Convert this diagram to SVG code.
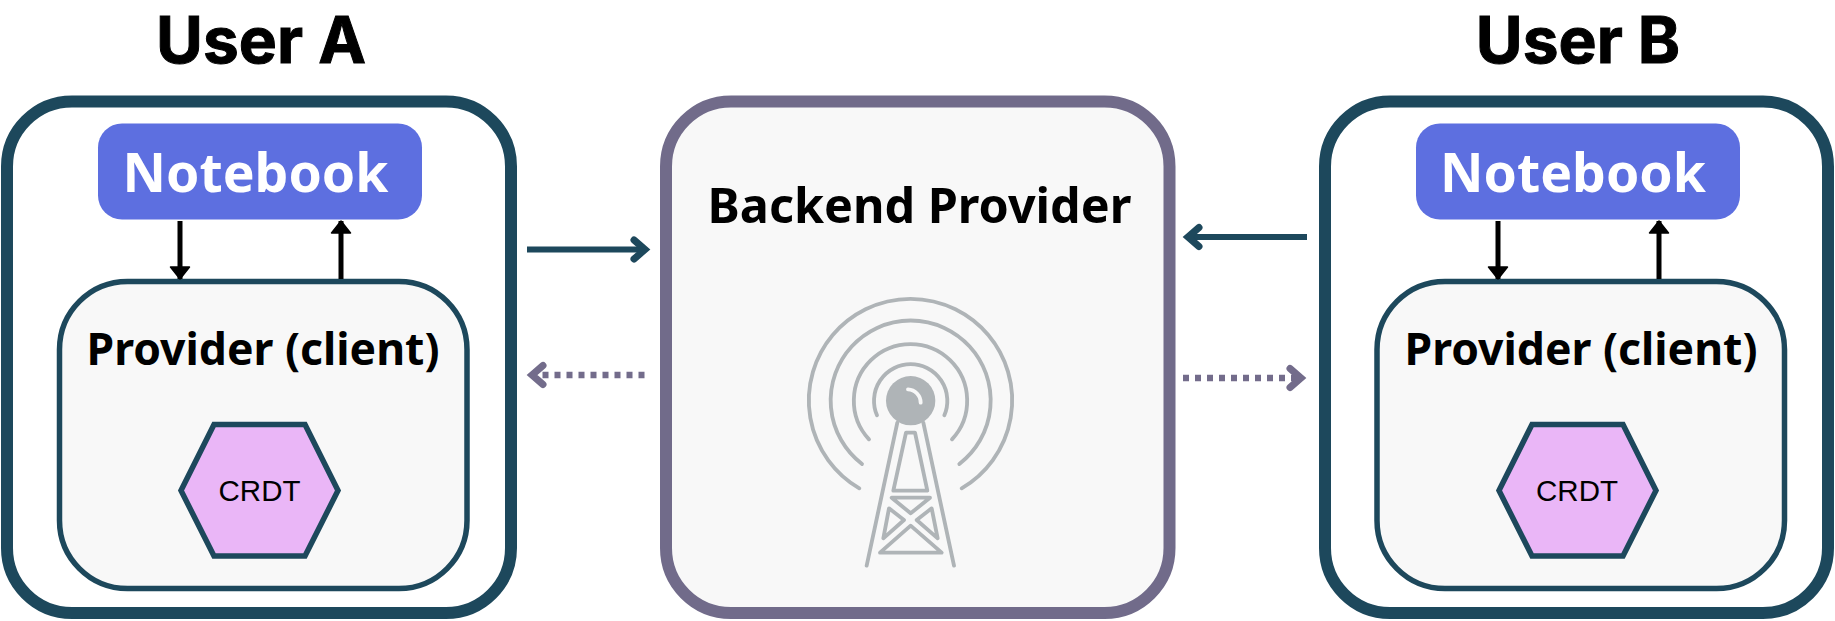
<svg xmlns="http://www.w3.org/2000/svg" width="1835" height="621" viewBox="0 0 1835 621">
<style>
text{font-family:"Noto Sans","Open Sans","Liberation Sans",sans-serif;font-weight:700;fill:#000}
.title{font-family:Inter,"Noto Sans",sans-serif;font-size:64px;stroke:#000;stroke-width:1px}
.nb{font-size:53.500px;fill:#fff}
.prov{font-size:44.500px}
.back{font-size:48.500px}
.crdt{font-family:"Liberation Sans",Arial,sans-serif;font-weight:400;font-size:29.500px}
.user{fill:#fff;stroke:#1D485C;stroke-width:12}
.nbbox{fill:#5D6FE0}
.provbox{fill:#F8F8F8;stroke:#1D485C;stroke-width:5.500}
.hex{fill:#EAB6F7;stroke:#1D485C;stroke-width:5.500;stroke-linejoin:miter}
.ba{fill:#F8F8F8;stroke:#716B8A;stroke-width:12}
.blk{stroke:#000;stroke-width:5;fill:none}
.teal{stroke:#1D485C;stroke-width:6;fill:none}
.dot{stroke:#736C8B;stroke-width:6.500;stroke-dasharray:6 6;fill:none}
.tw{fill:none;stroke:#AFB4B7;stroke-width:11.500;stroke-linecap:round;stroke-linejoin:round}
</style>
<defs>
<marker id="hb" markerUnits="userSpaceOnUse" markerWidth="24" markerHeight="24" refX="12" refY="12" orient="auto" overflow="visible"><path d="M12 12L0 2.500 0 21.500Z" fill="#000" stroke="#000" stroke-width="1.500" stroke-linejoin="round"/></marker>
<marker id="ct" markerUnits="userSpaceOnUse" markerWidth="40" markerHeight="40" refX="20" refY="20" orient="auto" overflow="visible"><path d="M9 10.500L20 20 9 29.500" fill="none" stroke="#1D485C" stroke-width="7" stroke-linecap="round"/></marker>
<marker id="cp" markerUnits="userSpaceOnUse" markerWidth="40" markerHeight="40" refX="20" refY="20" orient="auto" overflow="visible"><path d="M9 10.500L20 20 9 29.500" fill="none" stroke="#736C8B" stroke-width="7" stroke-linecap="round"/></marker>
</defs>
<rect width="1835" height="621" fill="#fff"/>
<g id="user-a">
<text class="title" x="261" y="63" text-anchor="middle">User A</text>
<rect class="user" x="7" y="101.500" width="504" height="511.500" rx="65"/>
</g>
<g id="notebook-a">
<rect class="nbbox" x="98" y="123.500" width="324" height="96" rx="24"/>
<text class="nb" x="255.500" y="192" text-anchor="middle">Notebook</text>
</g>
<g id="provider-a">
<rect class="provbox" x="59.500" y="281.500" width="407.500" height="307" rx="68"/>
<text class="prov" x="263" y="365" text-anchor="middle">Provider (client)</text>
</g>
<g id="crdt-a">
<polygon class="hex" points="181,490.500 214,424.500 305,424.500 338,490.500 305,556 214,556"/>
<text class="crdt" x="259.500" y="501" text-anchor="middle">CRDT</text>
</g>
<g id="backend">
<rect class="ba" x="666" y="101.500" width="503.500" height="511.500" rx="65"/>
<text class="back" x="919.500" y="223" text-anchor="middle">Backend Provider</text>
<g class="tw" transform="translate(780 280) scale(.33333)">
<circle cx="392" cy="362" r="74" fill="#AFB4B7" stroke="none"/>
<path d="M384 328A40 40 0 0 1 422 368" stroke="#F8F8F8"/>
<path d="M291 406A110 110 0 1 1 493 406"/>
<path d="M267 478A170 170 0 1 1 516 478"/>
<path d="M246 552A240 240 0 1 1 538 552"/>
<path d="M238 625A305 305 0 1 1 545 625"/>
<path d="M352 428L260 857M430 428L522 857"/>
<path d="M378 458H405L442 632H340Z"/>
<path d="M335 653H450L392 700Z"/>
<path d="M327 685L372 720 310 775Z"/>
<path d="M455 685L410 720 473 775Z"/>
<path d="M392 737L485 818H300Z"/>
</g>
</g>
<g id="user-b">
<text class="title" x="1578" y="63" text-anchor="middle">User B</text>
<rect class="user" x="1325" y="101.500" width="503" height="511.500" rx="65"/>
</g>
<g id="notebook-b">
<rect class="nbbox" x="1416" y="123.500" width="324" height="96" rx="24"/>
<text class="nb" x="1573" y="192" text-anchor="middle">Notebook</text>
</g>
<g id="provider-b">
<rect class="provbox" x="1377" y="281.500" width="407.500" height="307" rx="68"/>
<text class="prov" x="1581" y="365" text-anchor="middle">Provider (client)</text>
</g>
<g id="crdt-b">
<polygon class="hex" points="1499,490.500 1532,424.500 1623,424.500 1656,490.500 1623,556 1532,556"/>
<text class="crdt" x="1577" y="501" text-anchor="middle">CRDT</text>
</g>
<g id="connectors">
<line class="blk" x1="180" y1="221" x2="180" y2="279" marker-end="url(#hb)"/>
<line class="blk" x1="341" y1="279" x2="341" y2="221" marker-end="url(#hb)"/>
<line class="blk" x1="1498" y1="221" x2="1498" y2="279" marker-end="url(#hb)"/>
<line class="blk" x1="1659" y1="279" x2="1659" y2="221" marker-end="url(#hb)"/>
<line class="teal" x1="527" y1="249.500" x2="645" y2="249.500" marker-end="url(#ct)"/>
<line class="teal" x1="1307" y1="237" x2="1188" y2="237" marker-end="url(#ct)"/>
<line class="dot" x1="644.500" y1="375" x2="532" y2="375" marker-end="url(#cp)"/>
<line class="dot" x1="1183" y1="378" x2="1301" y2="378" marker-end="url(#cp)"/>
</g>
</svg>
